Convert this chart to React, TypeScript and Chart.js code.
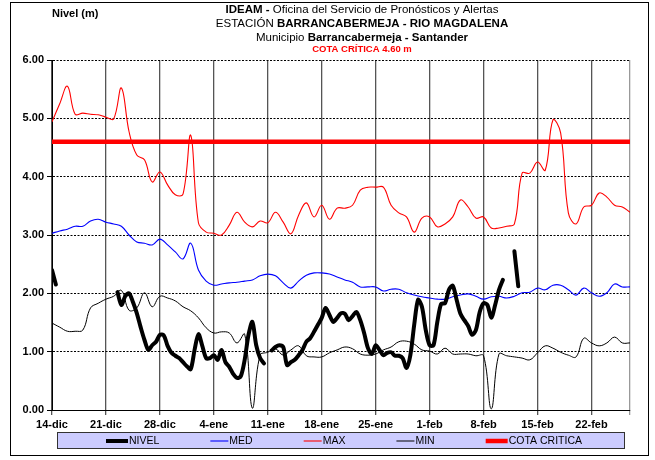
import React, { useEffect, useRef } from 'react';
import { Chart, registerables } from 'chart.js';

Chart.register(...registerables);

// Tick labels (every 7 days, day index 0 = 14-dic, last day index 75 = 27-feb)
const dateLabels = ['14-dic', '21-dic', '28-dic', '4-ene', '11-ene', '18-ene', '25-ene', '1-feb', '8-feb', '15-feb', '22-feb'];
const lastDay = 75;
const cotaCritica = 4.6;

// Daily series (one value per day from 14-dic)
const maxValues = [
  4.94, 5.25, 5.55, 5.07, 5.09, 5.07, 5.06, 5.02, 4.99, 5.52,
  4.77, 4.37, 4.29, 3.91, 4.08, 3.86, 3.69, 3.70, 4.71, 3.21,
  3.05, 3.03, 3.00, 3.17, 3.39, 3.22, 3.14, 3.24, 3.21, 3.39,
  3.22, 3.02, 3.34, 3.55, 3.31, 3.51, 3.27, 3.46, 3.46, 3.51,
  3.77, 3.82, 3.82, 3.82, 3.51, 3.38, 3.31, 3.05, 3.29, 3.31,
  3.14, 3.19, 3.31, 3.60, 3.48, 3.29, 3.31, 3.12, 3.12, 3.15,
  3.19, 4.06, 4.06, 4.25, 4.11, 4.97, 4.75, 3.38, 3.19, 3.48,
  3.51, 3.72, 3.65, 3.51, 3.48, 3.39,
];

const medValues = [
  3.03, 3.07, 3.10, 3.15, 3.15, 3.24, 3.27, 3.22, 3.19, 3.15,
  3.00, 2.88, 2.86, 2.83, 2.93, 2.83, 2.71, 2.59, 2.86, 2.40,
  2.21, 2.14, 2.16, 2.18, 2.19, 2.21, 2.23, 2.30, 2.33, 2.30,
  2.18, 2.09, 2.21, 2.31, 2.35, 2.35, 2.33, 2.28, 2.23, 2.19,
  2.11, 2.11, 2.11, 2.04, 2.07, 2.07, 2.01, 1.97, 1.94, 1.92,
  1.90, 1.90, 1.94, 1.97, 1.99, 1.95, 1.90, 1.94, 1.95, 1.92,
  1.95, 2.01, 2.02, 2.09, 2.06, 2.14, 2.14, 2.06, 1.97, 2.09,
  2.01, 1.95, 2.01, 2.16, 2.11, 2.11,
];

const minValues = [
  1.49, 1.42, 1.35, 1.35, 1.37, 1.75, 1.83, 1.90, 1.95, 2.05,
  1.71, 1.75, 2.01, 1.77, 1.95, 1.92, 1.87, 1.77, 1.70, 1.58,
  1.41, 1.32, 1.34, 1.32, 1.15, 1.30, 0.03, 0.94, 0.99, 1.05,
  0.94, 1.03, 1.10, 0.93, 0.91, 0.91, 0.98, 1.03, 1.08, 1.05,
  0.96, 0.94, 0.96, 1.03, 1.08, 1.17, 1.18, 1.13, 1.03, 1.01,
  0.96, 1.06, 0.96, 0.96, 0.96, 0.93, 0.93, 0.02, 0.96, 0.93,
  0.91, 0.89, 0.86, 0.98, 1.10, 1.06, 0.99, 0.94, 0.91, 1.23,
  1.15, 1.10, 1.15, 1.25, 1.15, 1.15,
];

// NIVEL readings every half day from 14-dic (null = no reading)
const nivelValues = [
  2.40, 2.15, null, null, null, null, null, null, null, null,
  null, null, null, null, null, null, null, 2.02, 1.80, 1.95,
  2.00, 1.85, 1.66, 1.42, 1.20, 1.03, 1.11, 1.17, 1.29, 1.28,
  1.10, 0.98, 0.93, 0.89, 0.82, 0.75, 0.70, 1.03, 1.30, 1.10,
  0.89, 0.89, 0.94, 0.86, 1.03, 0.82, 0.74, 0.62, 0.55, 0.58,
  0.86, 1.29, 1.51, 1.11, 0.89, 0.80, null, 1.02, 1.08, 1.11,
  1.08, 0.77, 0.82, 0.86, 0.94, 1.03, 1.17, 1.23, 1.34, 1.46,
  1.58, 1.75, 1.63, 1.51, 1.58, 1.66, 1.65, 1.54, 1.61, 1.68,
  1.54, 1.32, 1.06, 0.96, 1.11, 1.03, 0.94, 0.98, 0.99, 0.93,
  0.93, 0.89, 0.72, 0.94, 1.46, 1.89, 1.77, 1.37, 1.11, 1.11,
  1.51, 1.82, 1.83, 2.06, 2.13, 1.89, 1.65, 1.54, 1.44, 1.29,
  1.37, 1.68, 1.83, 1.80, 1.58, 1.80, 2.06, 2.23, null, null,
  2.72, 2.12,
];

const titleLines: { text: string; bold: boolean }[][] = [
  [{ text: 'IDEAM -', bold: true }, { text: ' Oficina del Servicio de Pronósticos y Alertas', bold: false }],
  [{ text: 'ESTACIÓN ', bold: false }, { text: 'BARRANCABERMEJA - RIO MAGDALENA', bold: true }],
  [{ text: 'Municipio ', bold: false }, { text: 'Barrancabermeja - Santander', bold: true }],
];
const cotaTitle = 'COTA CRÍTICA 4.60 m';
const yAxisTitle = 'Nivel (m)';

const FONT = "'Liberation Sans', Arial, sans-serif";

const decorPlugin = {
  id: 'decor',
  afterDraw(chart: any) {
    const ctx = chart.ctx as CanvasRenderingContext2D;
    const area = chart.chartArea;
    ctx.save();
    // outer frame
    ctx.strokeStyle = '#000';
    ctx.lineWidth = 1;
    ctx.strokeRect(10.5, 2.5, 638, 453);

    // title lines
    ctx.fillStyle = '#000';
    ctx.textBaseline = 'middle';
    ctx.textAlign = 'left';
    const cx = 362;
    const ys = [10, 24, 37.5];
    titleLines.forEach((runs, li) => {
      let total = 0;
      runs.forEach((r) => {
        ctx.font = `${r.bold ? 'bold ' : ''}11.5px ${FONT}`;
        total += ctx.measureText(r.text).width;
      });
      let x = cx - total / 2;
      runs.forEach((r) => {
        ctx.font = `${r.bold ? 'bold ' : ''}11.5px ${FONT}`;
        ctx.fillText(r.text, x, ys[li]);
        x += ctx.measureText(r.text).width;
      });
    });
    ctx.fillStyle = '#ff0000';
    ctx.font = `bold 9.5px ${FONT}`;
    ctx.textAlign = 'center';
    ctx.fillText(cotaTitle, cx, 49);

    ctx.fillStyle = '#000';
    ctx.font = `bold 11px ${FONT}`;
    ctx.textAlign = 'left';
    ctx.fillText(yAxisTitle, 52, 14);

    // legend box
    const bx = area.left + 5;
    const bw = area.right - area.left - 10;
    const by = 432;
    const bh = 17;
    ctx.fillStyle = '#ccccff';
    ctx.fillRect(bx, by, bw, bh);
    ctx.strokeStyle = '#333';
    ctx.strokeRect(bx + 0.5, by + 0.5, bw - 1, bh - 1);

    let x = bx + 49;
    const ly = by + bh / 2 + 0.5;
    ctx.font = `10.5px ${FONT}`;
    chart.data.datasets.forEach((ds: any) => {
      const len = ds.borderWidth > 3 ? 22 : 18;
      ctx.strokeStyle = ds.borderColor;
      ctx.lineWidth = ds.borderWidth;
      ctx.beginPath();
      ctx.moveTo(x, ly);
      ctx.lineTo(x + len, ly);
      ctx.stroke();
      x += len + 1;
      ctx.fillStyle = '#000';
      ctx.fillText(ds.label, x, ly + 0.5);
      x += ctx.measureText(ds.label).width + 51;
    });
    ctx.restore();
  },
};

export default function App() {
  const ref = useRef<HTMLCanvasElement | null>(null);

  useEffect(() => {
    if (!ref.current) return;
    const daily = (arr: (number | null)[]) => arr.map((v, i) => ({ x: i, y: v }));
    const chart = new Chart(ref.current, {
      type: 'line',
      data: {
        datasets: [
          {
            label: 'NIVEL',
            data: nivelValues.map((v, i) => ({ x: i / 2, y: v })),
            borderColor: '#000000',
            borderWidth: 4,
            tension: 0.3,
            spanGaps: false,
            pointRadius: 0,
            borderCapStyle: 'round',
            borderJoinStyle: 'round',
          },
          { label: 'MED', data: daily(medValues), borderColor: '#0000ff', borderWidth: 1.1, tension: 0.4, pointRadius: 0 },
          { label: 'MAX', data: daily(maxValues), borderColor: '#ff0000', borderWidth: 1.1, tension: 0.4, pointRadius: 0 },
          { label: 'MIN', data: daily(minValues), borderColor: '#000000', borderWidth: 1, tension: 0.4, pointRadius: 0 },
          {
            label: 'COTA CRITICA',
            data: [{ x: 0, y: cotaCritica }, { x: lastDay, y: cotaCritica }],
            borderColor: '#ff0000',
            borderWidth: 4.5,
            pointRadius: 0,
          },
        ] as any,
      },
      options: {
        animation: false,
        responsive: false,
        devicePixelRatio: 1,
        layout: { padding: { left: 12, right: 25, top: 60, bottom: 28 } },
        plugins: { legend: { display: false }, title: { display: false }, tooltip: { enabled: false } },
        scales: {
          x: {
            type: 'linear',
            min: 0,
            max: lastDay,
            afterBuildTicks: (s: any) => {
              const t = dateLabels.map((_, i) => ({ value: i * 7 }));
              t.push({ value: lastDay });
              s.ticks = t;
            },
            afterFit: (s: any) => {
              s.height = 22;
            },
            ticks: {
              autoSkip: false,
              maxRotation: 0,
              padding: 3,
              color: '#000',
              font: { family: FONT, size: 11, weight: 'bold' },
              callback: (v: any) => dateLabels[Number(v) / 7] ?? '',
            },
            grid: {
              color: (c: any) => (c.tick && c.tick.value === lastDay ? '#999999' : '#555555'),
              lineWidth: 1.3,
              tickLength: 5,
            },
            border: { color: '#000', width: 1 },
          },
          y: {
            min: 0,
            max: 6,
            afterFit: (s: any) => {
              s.width = 40;
            },
            ticks: {
              stepSize: 1,
              padding: 3,
              color: '#000',
              font: { family: FONT, size: 11, weight: 'bold' },
              callback: (v: any) => Number(v).toFixed(2),
            },
            grid: { color: '#000', lineWidth: 1, tickLength: 5, tickBorderDash: [] },
            border: { color: '#000', width: 1, dash: [2, 1.5] },
          },
        },
      } as any,
      plugins: [decorPlugin],
    });
    return () => chart.destroy();
  }, []);

  return (
    <div style={{ position: 'absolute', left: 0, top: 0, width: 655, height: 460, background: '#fff' }}>
      <canvas ref={ref} width={655} height={460} style={{ display: 'block', width: 655, height: 460 }} />
    </div>
  );
}
